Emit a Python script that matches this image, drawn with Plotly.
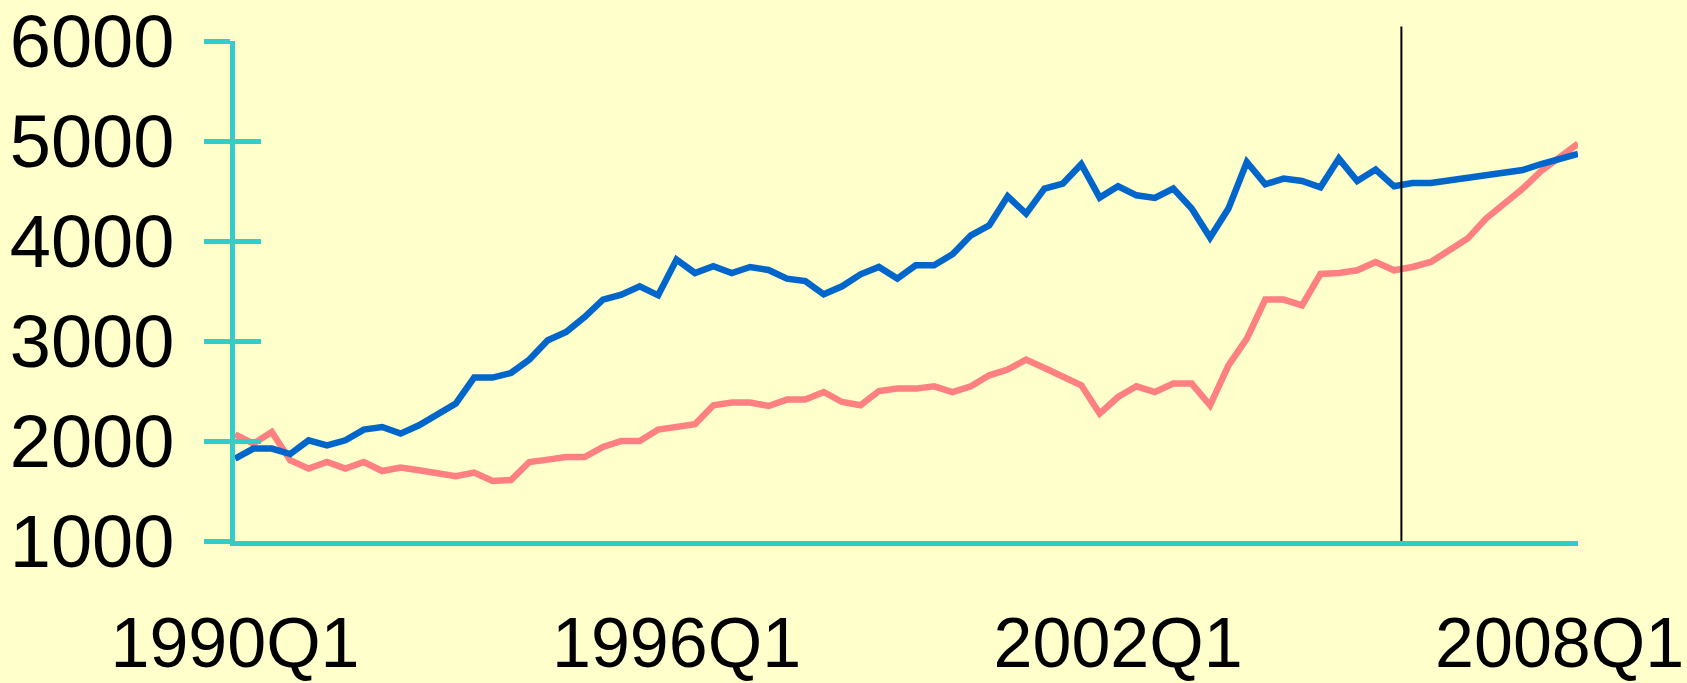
import plotly.graph_objects as go

# quarterly labels 1990Q1 .. 2008Q2
quarters = [f"{y}Q{q}" for y in range(1990, 2009) for q in range(1, 5)][:74]

blue_series = [1824, 1924, 1924, 1870, 2007, 1957, 2007, 2114, 2140, 2074,
               2157, 2257, 2374, 2634, 2634, 2680, 2814, 3007, 3090, 3240,
               3414, 3464, 3547, 3457, 3814, 3680, 3747, 3680, 3740, 3710,
               3624, 3600, 3467, 3547, 3667, 3740, 3624, 3757, 3757, 3867,
               4057, 4157, 4447, 4274, 4525, 4574, 4767, 4434, 4547, 4457,
               4430, 4524, 4324, 4034, 4324, 4790, 4567, 4624, 4600, 4537,
               4824, 4600, 4714, 4547, 4580, 4580, 4606, 4632, 4658, 4684,
               4710, 4770, 4822, 4870]

pink_series = [2067, 1974, 2090, 1807, 1724, 1790, 1724, 1790, 1700, 1734,
               1707, 1680, 1647, 1684, 1600, 1610, 1790, 1814, 1840, 1840,
               1940, 2000, 2000, 2114, 2140, 2167, 2357, 2384, 2384, 2350,
               2414, 2414, 2490, 2390, 2357, 2500, 2524, 2524, 2547, 2490,
               2547, 2657, 2714, 2814, 2730, 2640, 2557, 2274, 2440, 2547,
               2490, 2574, 2574, 2357, 2757, 3024, 3414, 3414, 3357, 3670,
               3680, 3707, 3790, 3707, 3740, 3790, 3907, 4024, 4224, 4374,
               4524, 4700, 4840, 4974]

tick_idx = [0, 24, 48, 72]
y_ticks = [1000, 2000, 3000, 4000, 5000, 6000]
forecast_start = 63.4  # vertical marker between 2005Q4 and 2006Q1

CYAN = "#33CCCC"
BG = "#FFFFCC"
FONT = "Liberation Sans, Arial, sans-serif"

x = list(range(len(quarters)))

fig = go.Figure()
fig.add_trace(go.Scatter(x=x, y=pink_series, mode="lines",
                         line=dict(color="#FF8080", width=6.5), showlegend=False))
fig.add_trace(go.Scatter(x=x, y=blue_series, mode="lines",
                         line=dict(color="#0066CC", width=6.5), showlegend=False))
# dummy trace so the second y axis (inner half of the crossing ticks) is drawn
fig.add_trace(go.Scatter(x=[0], y=[1000], yaxis="y2", mode="lines",
                         line=dict(width=0), showlegend=False, hoverinfo="skip"))

fig.add_shape(type="line", xref="x", yref="paper",
              x0=forecast_start, x1=forecast_start, y0=0, y1=1.029,
              line=dict(color="black", width=2))

fig.update_layout(
    width=1687, height=683,
    paper_bgcolor=BG, plot_bgcolor=BG,
    margin=dict(l=235, r=109, t=41, b=142, pad=0, autoexpand=False),
    font=dict(family=FONT, color="black"),
    xaxis=dict(range=[0, 73], tickvals=tick_idx,
               ticktext=[quarters[i] for i in tick_idx],
               showgrid=False, zeroline=False, automargin=False,
               showline=True, linecolor=CYAN, linewidth=4.5,
               ticks="", tickfont=dict(size=70, family=FONT),
               ticklabelstandoff=37, ticklabeloverflow="allow"),
    yaxis=dict(range=[1000, 6000], tickvals=y_ticks,
               showgrid=False, zeroline=False, automargin=False,
               showline=True, linecolor=CYAN, linewidth=4.5,
               ticks="outside", ticklen=26, tickwidth=5, tickcolor=CYAN,
               tickfont=dict(size=74, family=FONT), ticklabelstandoff=15,
               ticklabeloverflow="allow"),
    yaxis2=dict(range=[1000, 6000], tickvals=y_ticks, overlaying="y",
                side="left", showgrid=False, zeroline=False, automargin=False,
                showline=False, showticklabels=False,
                ticks="inside", ticklen=26, tickwidth=5, tickcolor=CYAN),
)

fig.write_html("out.html", config={"displayModeBar": False},
               post_script="document.body.style.margin='0';"
                           "document.body.style.background='#FFFFCC';")
